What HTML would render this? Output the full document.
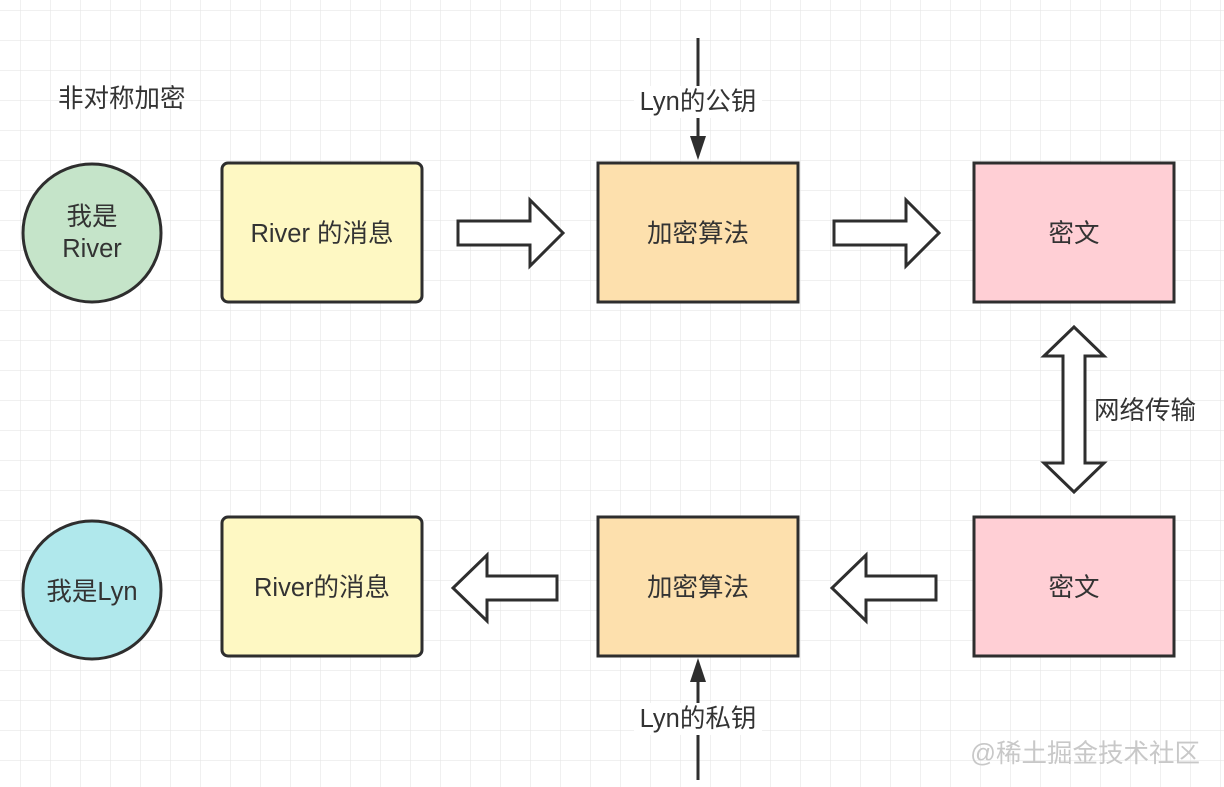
<!DOCTYPE html>
<html><head><meta charset="utf-8"><style>
body{margin:0;background:#fff}
svg{display:block}
text{font-family:"Liberation Sans","Noto Sans CJK SC",sans-serif;fill:#333;font-size:25.5px}
</style></head><body>
<svg width="1224" height="787" viewBox="0 0 1224 787" xmlns="http://www.w3.org/2000/svg">
<defs>
<pattern id="g" x="20" y="10" width="30" height="30" patternUnits="userSpaceOnUse">
<path d="M0 0H30M0 0V30" stroke="#e6e6e6" stroke-width="1.2" fill="none"/>
</pattern>
</defs>
<rect width="1224" height="787" fill="url(#g)"/>
<g stroke="#2e2e2e" stroke-width="3">
<circle cx="92" cy="233" r="69" fill="#c5e4c9"/>
<circle cx="92" cy="590" r="69" fill="#b0e8ec"/>
<rect x="222" y="163" width="200" height="139" rx="6" fill="#fef8c3"/>
<rect x="222" y="517" width="200" height="139" rx="6" fill="#fef8c3"/>
<rect x="598" y="163" width="200" height="139" fill="#fde0ad"/>
<rect x="598" y="517" width="200" height="139" fill="#fde0ad"/>
<rect x="974" y="163" width="200" height="139" fill="#ffcfd5"/>
<rect x="974" y="517" width="200" height="139" fill="#ffcfd5"/>
<path d="M458 221H530V200L563 233L530 266V245H458Z" fill="#fff" stroke-linejoin="miter"/>
<path d="M834 221H906V200L939 233L906 266V245H834Z" fill="#fff"/>
<path d="M557 576H487V555L453 588L487 621V600H557Z" fill="#fff"/>
<path d="M936 576H866V555L832 588L866 621V600H936Z" fill="#fff"/>
<path d="M1074 327L1104 356H1085V463H1104L1074 492L1044 463H1063V356H1044Z" fill="#fff"/>
<line x1="698" y1="38" x2="698" y2="140"/>
<line x1="698" y1="780" x2="698" y2="680"/>
</g>
<path d="M690 136H706L698 160Z" fill="#2e2e2e"/>
<path d="M690 682H706L698 658Z" fill="#2e2e2e"/>
<rect x="634" y="86" width="128" height="32" fill="#fff"/>
<rect x="634" y="703" width="128" height="32" fill="#fff"/>
<text x="58" y="107" font-size="25">非对称加密</text>
<text x="92" y="225" text-anchor="middle">我是</text>
<text x="92" y="257" text-anchor="middle">River</text>
<text x="92" y="600" text-anchor="middle">我是Lyn</text>
<text x="322" y="242" text-anchor="middle" font-size="26.5">River 的消息</text>
<text x="322" y="596" text-anchor="middle" font-size="26">River的消息</text>
<text x="698" y="242" text-anchor="middle">加密算法</text>
<text x="698" y="596" text-anchor="middle">加密算法</text>
<text x="1074" y="242" text-anchor="middle">密文</text>
<text x="1074" y="596" text-anchor="middle">密文</text>
<text x="698" y="110" text-anchor="middle">Lyn的公钥</text>
<text x="698" y="727" text-anchor="middle">Lyn的私钥</text>
<text x="1094" y="419">网络传输</text>
<text x="1200" y="762" text-anchor="end" font-size="17" style="fill:#c8c8c8">@稀土掘金技术社区</text>
</svg>
</body></html>
